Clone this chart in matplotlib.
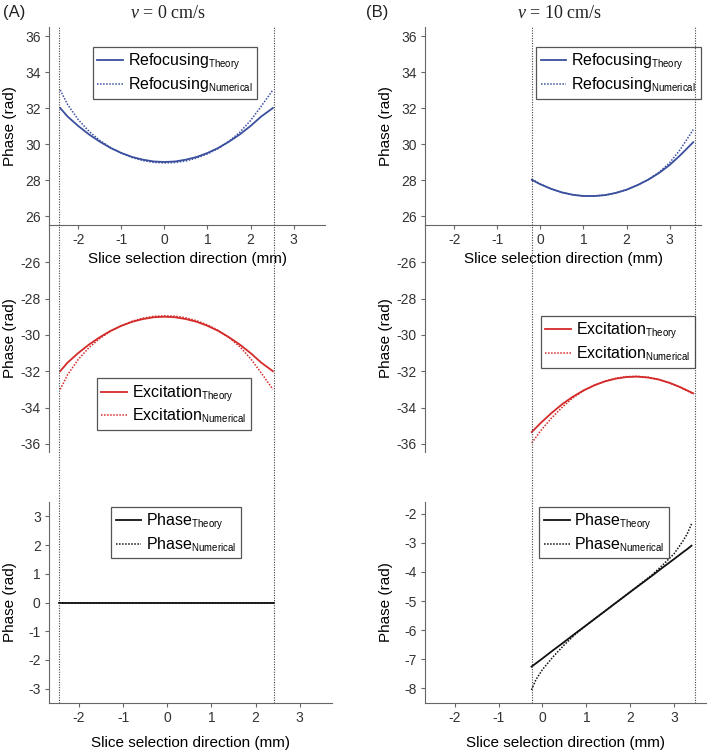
import numpy as np
import matplotlib
matplotlib.use("Agg")
from matplotlib import pyplot as plt
import matplotlib._mathtext as mathtext_internal

plt.rcParams['font.family'] = ['Liberation Sans', 'DejaVu Sans']
plt.rcParams['axes.unicode_minus'] = False
plt.rcParams['mathtext.fontset'] = 'custom'
plt.rcParams['mathtext.rm'] = 'Liberation Sans'
plt.rcParams['mathtext.it'] = 'Liberation Serif:italic'
# smaller subscripts, as in the original legends
mathtext_internal.SHRINK_FACTOR = 0.6

# ---- data ----
# (A) v = 0 cm/s
xA_top = [-2.42, -2.25, -2.0, -1.75, -1.5, -1.25, -1.0, -0.75, -0.5, -0.25, 0.0,
          0.25, 0.5, 0.75, 1.0, 1.25, 1.5, 1.75, 2.0, 2.25, 2.52]
refoc_theory_A = [32.0, 31.53, 31.0, 30.53, 30.13, 29.78, 29.5, 29.28, 29.13, 29.03, 29.0,
                  29.03, 29.13, 29.28, 29.5, 29.78, 30.13, 30.53, 31.0, 31.53, 32.0]
refoc_numer_A = [33.0, 32.2, 31.35, 30.7, 30.2, 29.8, 29.5, 29.25, 29.08, 28.98, 28.95,
                 28.97, 29.06, 29.22, 29.45, 29.75, 30.15, 30.65, 31.3, 32.1, 33.0]
excit_theory_A = [-32.0, -31.53, -31.0, -30.53, -30.13, -29.78, -29.5, -29.28, -29.13, -29.03, -29.0,
                  -29.03, -29.13, -29.28, -29.5, -29.78, -30.13, -30.53, -31.0, -31.53, -32.0]
excit_numer_A = [-33.0, -32.2, -31.35, -30.7, -30.2, -29.8, -29.5, -29.25, -29.08, -28.98, -28.95,
                 -28.97, -29.06, -29.22, -29.45, -29.75, -30.15, -30.65, -31.3, -32.1, -33.0]
xA_bot = [-2.46, -1.0, 0.0, 1.0, 2.41]
phase_theory_A = [0.0, 0.0, 0.0, 0.0, 0.0]
phase_numer_A = [0.0, 0.0, 0.0, 0.0, 0.0]
edges_A = [-2.44, 2.46]

# (B) v = 10 cm/s
xB_top = [-0.2, 0.0, 0.25, 0.5, 0.75, 1.0, 1.25, 1.5, 1.75, 2.0, 2.25, 2.5, 2.75, 3.0, 3.25, 3.55]
refoc_theory_B = [28.01, 27.76, 27.51, 27.31, 27.18, 27.11, 27.11, 27.16, 27.28, 27.46, 27.71,
                  28.01, 28.38, 28.83, 29.38, 30.1]
refoc_numer_B = [28.05, 27.77, 27.51, 27.31, 27.18, 27.11, 27.11, 27.16, 27.28, 27.46, 27.71,
                 28.02, 28.42, 28.95, 29.7, 30.8]
excit_theory_B = [-35.35, -34.87, -34.32, -33.83, -33.41, -33.06, -32.78, -32.56, -32.41, -32.32,
                  -32.3, -32.35, -32.46, -32.64, -32.88, -33.22]
excit_numer_B = [-35.95, -35.3, -34.6, -34.0, -33.48, -33.08, -32.78, -32.55, -32.39, -32.3,
                 -32.28, -32.33, -32.45, -32.65, -32.9, -33.25]
xB_bot = [-0.25, -0.15, 0.0, 0.25, 0.5, 0.75, 1.0, 1.5, 2.0, 2.5, 2.75, 3.0, 3.2, 3.3, 3.4]
phase_theory_B = [-7.25, -7.14, -6.97, -6.68, -6.40, -6.11, -5.83, -5.26, -4.69, -4.13, -3.84,
                  -3.56, -3.33, -3.22, -3.10]
phase_numer_B = [-8.05, -7.7, -7.35, -6.9, -6.5, -6.14, -5.83, -5.26, -4.69, -4.1, -3.75,
                 -3.38, -2.95, -2.7, -2.35]
edges_B = [-0.22, 3.51]

xticks = [-2, -1, 0, 1, 2, 3]
xlim = (-2.68, 3.73)

BLUE = '#3a4f9e'
RED = '#d42a2a'
BLACK = '#111111'
SPINE = '#666666'
TXT = '#333333'

W, H = 709, 750
fig = plt.figure(figsize=(W / 100, H / 100), dpi=100)


def px_axes(l, t, r, b):
    return fig.add_axes([l / W, 1 - b / H, (r - l) / W, (b - t) / H])


def style(ax, show_x=True):
    for s in ['top', 'right']:
        ax.spines[s].set_visible(False)
    ax.spines['left'].set_color(SPINE)
    ax.spines['bottom'].set_color(SPINE)
    ax.tick_params(direction='out', length=3, width=0.8, color=SPINE,
                   labelcolor=TXT, labelsize=10, pad=3)
    ax.set_xlim(*xlim)
    if show_x:
        ax.set_xticks(xticks)
    else:
        ax.spines['bottom'].set_visible(False)
        ax.set_xticks([])
    ax.patch.set_alpha(0)


def legend(ax, px, py):
    leg = ax.legend(loc='upper left', bbox_to_anchor=(px / W, 1 - py / H),
                    bbox_transform=fig.transFigure, borderaxespad=0, fontsize=11.5,
                    handlelength=1.6, handletextpad=0.3, labelspacing=0.2,
                    borderpad=0.3, fancybox=False, framealpha=1)
    leg.get_frame().set_edgecolor('#555555')
    leg.get_frame().set_linewidth(0.9)


dot = (0, (1, 1))

columns = [
    dict(l=49, r_top=325, r_bot=332, x_top=xA_top, x_bot=xA_bot,
         rt=refoc_theory_A, rn=refoc_numer_A, et=excit_theory_A, en=excit_numer_A,
         pt=phase_theory_A, pn=phase_numer_A, edges=edges_A,
         bot_ylim=(-3.5, 3.5), bot_yticks=[-3, -2, -1, 0, 1, 2, 3],
         leg=[(92.7, 46.7), (96.7, 378.3), (111, 506.7)],
         tag='(A)', tag_x=3, title='$v$ = 0 cm/s', title_x=168, lab_x=17),
    dict(l=425, r_top=701, r_bot=706, x_top=xB_top, x_bot=xB_bot,
         rt=refoc_theory_B, rn=refoc_numer_B, et=excit_theory_B, en=excit_numer_B,
         pt=phase_theory_B, pn=phase_numer_B, edges=edges_B,
         bot_ylim=(-8.5, -1.6), bot_yticks=[-8, -7, -6, -5, -4, -3, -2],
         leg=[(536, 46.7), (540.7, 316), (539.3, 506.7)],
         tag='(B)', tag_x=366, title='$v$ = 10 cm/s', title_x=560, lab_x=393),
]

for c in columns:
    l = c['l']
    # refocusing
    ax1 = px_axes(l, 27, c['r_top'], 225)
    style(ax1)
    ax1.plot(c['x_top'], c['rt'], color=BLUE, lw=1.3, label='Refocusing$_{\\mathrm{Theory}}$')
    ax1.plot(c['x_top'], c['rn'], color=BLUE, lw=1.1, ls=dot, label='Refocusing$_{\\mathrm{Numerical}}$')
    ax1.set_ylim(25.5, 36.5)
    ax1.set_yticks(np.arange(26, 37, 2))
    ax1.set_xlabel('Slice selection direction (mm)', fontsize=11, labelpad=3)
    legend(ax1, *c['leg'][0])

    # excitation
    ax2 = px_axes(l, 225, c['r_top'], 452)
    style(ax2, show_x=False)
    ax2.plot(c['x_top'], c['et'], color=RED, lw=1.3, label='Excitation$_{\\mathrm{Theory}}$')
    ax2.plot(c['x_top'], c['en'], color=RED, lw=1.1, ls=dot, label='Excitation$_{\\mathrm{Numerical}}$')
    ax2.set_ylim(-36.45, -23.95)
    ax2.set_yticks(np.arange(-36, -25, 2))
    legend(ax2, *c['leg'][1])

    # total phase
    ax3 = px_axes(l, 502, c['r_bot'], 703)
    style(ax3)
    ax3.plot(c['x_bot'], c['pt'], color=BLACK, lw=1.3, label='Phase$_{\\mathrm{Theory}}$')
    ax3.plot(c['x_bot'], c['pn'], color=BLACK, lw=1.1, ls=dot, label='Phase$_{\\mathrm{Numerical}}$')
    ax3.set_ylim(*c['bot_ylim'])
    ax3.set_yticks(c['bot_yticks'])
    ax3.set_xlabel('Slice selection direction (mm)', fontsize=11, labelpad=8)
    legend(ax3, *c['leg'][2])

    for ax in (ax1, ax2, ax3):
        ax.set_ylabel('Phase (rad)', fontsize=11)
        bb = ax.get_position()
        ax.yaxis.set_label_coords((c['lab_x'] / W - bb.x0) / bb.width, 0.5)

    # slice edges spanning the whole column
    ov = px_axes(l, 27, l + 280, 703)
    ov.set_xlim(*xlim)
    ov.set_ylim(0, 1)
    ov.set_axis_off()
    for e in c['edges']:
        ov.axvline(e, color='#444444', lw=0.8, ls=(0, (1, 1.3)))

    fig.text(c['tag_x'] / W, 1 - 13 / H, c['tag'], fontsize=12, va='center', ha='left', color='#222222')
    fig.text(c['title_x'] / W, 1 - 13 / H, c['title'], fontsize=13, va='center', ha='center',
             family='Liberation Serif', color='#222222')

fig.savefig('out.png', dpi=100)
